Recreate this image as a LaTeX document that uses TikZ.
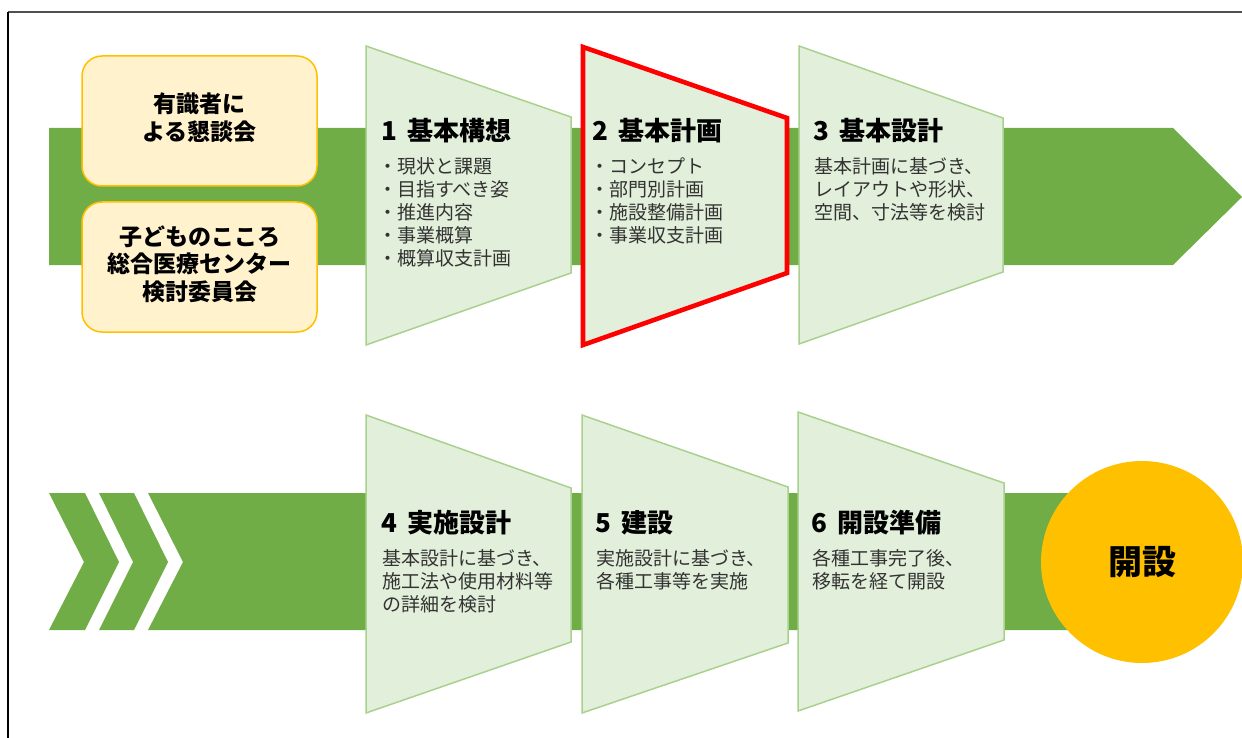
\documentclass[tikz,border=0pt]{standalone}
\usepackage{fontspec}
\setmainfont{Noto Sans CJK JP}
\definecolor{band}{HTML}{70AD47}
\definecolor{trapfill}{HTML}{E2EFDA}
\definecolor{trapline}{HTML}{A9D18E}
\definecolor{boxfill}{HTML}{FFF2CC}
\definecolor{gold}{HTML}{FFC000}
\definecolor{bodytext}{HTML}{333333}
\definecolor{framegray}{HTML}{505050}
\begin{document}
\begin{tikzpicture}[x=1pt,y=-1pt,
  trap/.style={fill=trapfill,draw=trapline,line width=1.5pt,line join=miter},
  hl/.style={fill=trapfill,draw=red,line width=4.6pt,line join=miter},
  ttl/.style={anchor=west,inner sep=0pt,font=\fontsize{26}{30}\selectfont\bfseries},
  bd/.style={anchor=west,inner sep=0pt,font=\fontsize{19}{23}\selectfont,text=bodytext},
  ybox/.style={draw=gold,fill=boxfill,line width=1.5pt,rounded corners=20pt,minimum width=235pt,minimum height=130pt,inner sep=0pt},
  ytext/.style={align=center,inner sep=0pt,font=\fontsize{23}{27.5}\selectfont\bfseries},
  bandfill/.style={fill=band}]
\useasboundingbox (0,0) rectangle (1242,738);
% frame
\coordinate (ftl) at (8,12);
\coordinate (ftr) at (1242,12);
\coordinate (fbl) at (8,738);
\draw[framegray,line width=2pt] (ftl) -- (ftr);
\draw[black,line width=1.5pt] (ftl) -- (fbl);

% top band
\fill[bandfill] (49,128) -- (1173,128) -- (1242,197) -- (1173,265) -- (49,265) -- cycle;

% yellow boxes
\node[ybox] (b1) at (199.5,121) {};
\node[ybox] (b2) at (199.5,267) {};
\node[ytext] (b1t) at (199.5,118) {有識者に\\よる懇談会};
\node[ytext] (b2t) at (199.5,264) {子どものこころ\\総合医療センター\\検討委員会};

% top trapezoids
\draw[trap] (366,46) -- (571,117) -- (571,273) -- (366,345) -- cycle;
\draw[hl] (583,47) -- (787,118) -- (787,273) -- (583,345) -- cycle;
\draw[trap] (799,46) -- (1003,118) -- (1003,272) -- (799,344) -- cycle;

\node[ttl] (t1) at (381,131) {1\hspace{0.42em}基本構想};
\foreach \txt [count=\i] in {・現状と課題,・目指すべき姿,・推進内容,・事業概算,・概算収支計画}
  \node[bd] (t1l\i) at (378,{166+23*(\i-1)}) {\txt};

\node[ttl] (t2) at (592,131) {2\hspace{0.42em}基本計画};
\foreach \txt [count=\i] in {・コンセプト,・部門別計画,・施設整備計画,・事業収支計画}
  \node[bd] (t2l\i) at (590,{166+23*(\i-1)}) {\txt};

\node[ttl] (t3) at (813,131) {3\hspace{0.42em}基本設計};
\foreach \txt [count=\i] in {基本計画に基づき、,レイアウトや形状、,空間、寸法等を検討}
  \node[bd] (t3l\i) at (814,{166+23*(\i-1)}) {\txt};

% bottom band with chevrons
\fill[bandfill] (49,493) -- (85,493) -- (119,562) -- (85,630) -- (49,630) -- (84,562) -- cycle;
\fill[bandfill] (99,493) -- (134,493) -- (168,562) -- (134,630) -- (99,630) -- (133,562) -- cycle;
\fill[bandfill] (148,493) -- (1120,493) -- (1120,630) -- (148,630) -- (183,562) -- cycle;

% bottom trapezoids
\draw[trap] (366,415) -- (571,488) -- (571,642) -- (366,713) -- cycle;
\draw[trap] (582,415) -- (788,487) -- (788,643) -- (582,713) -- cycle;
\draw[trap] (798,412) -- (1004,483) -- (1004,640) -- (798,711) -- cycle;

\node[ttl] (t4) at (381,523) {4\hspace{0.42em}実施設計};
\foreach \txt [count=\i] in {基本設計に基づき、,施工法や使用材料等,の詳細を検討}
  \node[bd] (t4l\i) at (382,{558+23*(\i-1)}) {\txt};

\node[ttl] (t5) at (595,523) {5\hspace{0.42em}建設};
\foreach \txt [count=\i] in {実施設計に基づき、,各種工事等を実施}
  \node[bd] (t5l\i) at (596,{558+23*(\i-1)}) {\txt};

\node[ttl] (t6) at (811,523) {6\hspace{0.42em}開設準備};
\foreach \txt [count=\i] in {各種工事完了後、,移転を経て開設}
  \node[bd] (t6l\i) at (812,{558+23*(\i-1)}) {\txt};

% goal circle
\node[circle,fill=gold,minimum size=202pt,inner sep=0pt,font=\fontsize{34}{40}\selectfont\bfseries] (goal) at (1142,562) {開設};
\end{tikzpicture}
\end{document}
